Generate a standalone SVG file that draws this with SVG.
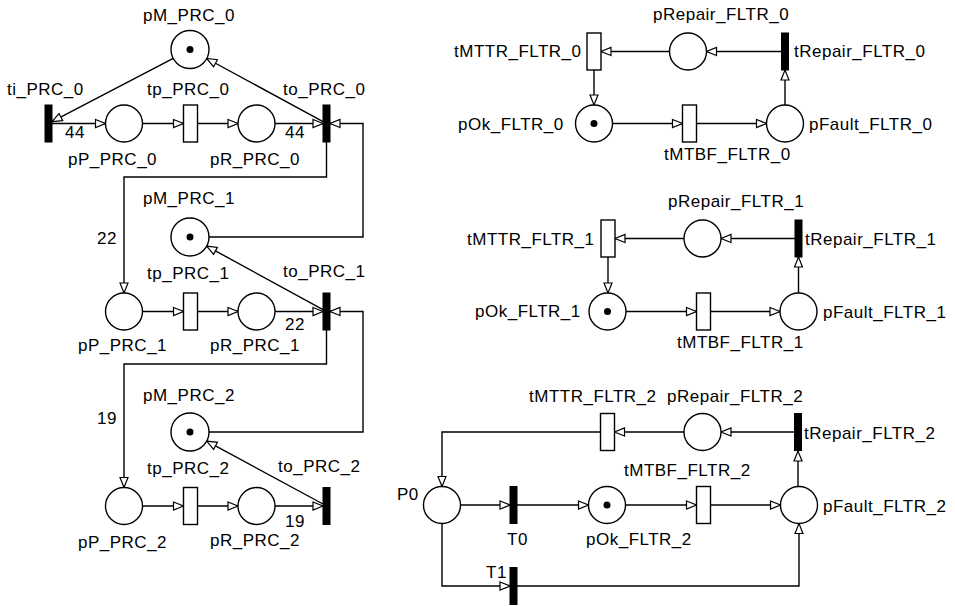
<svg xmlns="http://www.w3.org/2000/svg" width="955" height="606" viewBox="0 0 955 606">
<defs>
<style>
.pl{fill:#fff;stroke:#000;stroke-width:1.4}
.tk{fill:#000}
.tr{fill:#fff;stroke:#000;stroke-width:1.4}
.im{fill:#000;stroke:#000;stroke-width:1}
.arc{fill:none;stroke:#000;stroke-width:1.4}
text{font-family:"Liberation Sans",Arial,sans-serif;font-size:17px;letter-spacing:0.5px;fill:#000}
</style>
<marker id="ah" markerWidth="14" markerHeight="12" refX="10.5" refY="4.5" orient="auto" markerUnits="userSpaceOnUse" overflow="visible"><path d="M0.5,0.5 L10.5,4.5 L0.5,8.5 Z" fill="#fff" stroke="#000" stroke-width="1.2"/></marker>
</defs>
<rect width="955" height="606" fill="#fff"/>
<g id="connectors">
<!-- PRC row 0 -->
<path class="arc" marker-end="url(#ah)" d="M52,123.5 H105.5"/>
<path class="arc" marker-end="url(#ah)" d="M142.5,123.5 H183.5"/>
<path class="arc" marker-end="url(#ah)" d="M197.5,123.5 H238"/>
<path class="arc" marker-end="url(#ah)" d="M275,123.5 H323"/>
<path class="arc" marker-end="url(#ah)" d="M173.2,58.3 L52,121.7"/>
<path class="arc" marker-end="url(#ah)" d="M323,121.6 L206.7,58.5"/>
<path class="arc" marker-end="url(#ah)" d="M209,237 H363 V123.5 H330"/>
<path class="arc" marker-end="url(#ah)" d="M326.5,142 V177 H124 V293"/>
<!-- PRC row 1 -->
<path class="arc" marker-end="url(#ah)" d="M142.5,311.5 H183.5"/>
<path class="arc" marker-end="url(#ah)" d="M197.5,311.5 H238"/>
<path class="arc" marker-end="url(#ah)" d="M275,311.5 H323"/>
<path class="arc" marker-end="url(#ah)" d="M323,309.6 L206.7,246.1"/>
<path class="arc" marker-end="url(#ah)" d="M209,432 H363 V311.5 H330"/>
<path class="arc" marker-end="url(#ah)" d="M326.5,330 V364 H124 V487.5"/>
<!-- PRC row 2 -->
<path class="arc" marker-end="url(#ah)" d="M142.5,506 H183.5"/>
<path class="arc" marker-end="url(#ah)" d="M197.5,506 H238"/>
<path class="arc" marker-end="url(#ah)" d="M275,506 H323"/>
<path class="arc" marker-end="url(#ah)" d="M323,504 L206.7,441.1"/>
<!-- FLTR 0 -->
<path class="arc" marker-end="url(#ah)" d="M781.5,51.5 H706.5"/>
<path class="arc" marker-end="url(#ah)" d="M669.5,51.5 H601"/>
<path class="arc" marker-end="url(#ah)" d="M594,70 V105"/>
<path class="arc" marker-end="url(#ah)" d="M612.5,123.5 H682.5"/>
<path class="arc" marker-end="url(#ah)" d="M696.5,123.5 H766.5"/>
<path class="arc" marker-end="url(#ah)" d="M785,105 V70"/>
<!-- FLTR 1 -->
<path class="arc" marker-end="url(#ah)" d="M795,238.5 H721"/>
<path class="arc" marker-end="url(#ah)" d="M684,238.5 H615"/>
<path class="arc" marker-end="url(#ah)" d="M608,257 V293"/>
<path class="arc" marker-end="url(#ah)" d="M626,311.5 H696.5"/>
<path class="arc" marker-end="url(#ah)" d="M710.5,311.5 H780"/>
<path class="arc" marker-end="url(#ah)" d="M798.5,293 V257"/>
<!-- FLTR 2 -->
<path class="arc" marker-end="url(#ah)" d="M794.5,432 H721"/>
<path class="arc" marker-end="url(#ah)" d="M684,432 H614.5"/>
<path class="arc" marker-end="url(#ah)" d="M600.5,432 H442 V486.5"/>
<path class="arc" marker-end="url(#ah)" d="M460.5,505 H510"/>
<path class="arc" marker-end="url(#ah)" d="M517,505 H588.5"/>
<path class="arc" marker-end="url(#ah)" d="M625.5,505 H696.5"/>
<path class="arc" marker-end="url(#ah)" d="M710.5,505 H780.5"/>
<path class="arc" marker-end="url(#ah)" d="M798,486.5 V451"/>
<path class="arc" marker-end="url(#ah)" d="M442,523.5 V586 H510"/>
<path class="arc" marker-end="url(#ah)" d="M517,586 H799 V523.5"/>
<!-- arc weights -->
<text x="65" y="138">44</text>
<text x="285" y="138">44</text>
<text x="97" y="244">22</text>
<text x="285" y="330">22</text>
<text x="97" y="424">19</text>
<text x="285" y="527">19</text>
</g>
<!-- PRC nodes -->
<g id="pM_PRC_0"><circle class="pl" cx="190" cy="49.5" r="19"/><circle class="tk" cx="190" cy="49.5" r="3.5"/><text x="143" y="21">pM_PRC_0</text></g>
<g id="ti_PRC_0"><rect class="im" x="45" y="105" width="7" height="37"/><text x="7" y="95">ti_PRC_0</text></g>
<g id="pP_PRC_0"><circle class="pl" cx="124" cy="123.5" r="18.5"/><text x="68" y="165">pP_PRC_0</text></g>
<g id="tp_PRC_0"><rect class="tr" x="183.5" y="105" width="14" height="37"/><text x="147" y="95">tp_PRC_0</text></g>
<g id="pR_PRC_0"><circle class="pl" cx="256.5" cy="123.5" r="18.5"/><text x="210" y="165">pR_PRC_0</text></g>
<g id="to_PRC_0"><rect class="im" x="323" y="105" width="7" height="37"/><text x="283" y="95">to_PRC_0</text></g>
<g id="pM_PRC_1"><circle class="pl" cx="190" cy="237" r="19"/><circle class="tk" cx="190" cy="237" r="3.5"/><text x="143" y="204">pM_PRC_1</text></g>
<g id="pP_PRC_1"><circle class="pl" cx="124" cy="311.5" r="18.5"/><text x="78" y="351">pP_PRC_1</text></g>
<g id="tp_PRC_1"><rect class="tr" x="183.5" y="293" width="14" height="37"/><text x="147" y="279">tp_PRC_1</text></g>
<g id="pR_PRC_1"><circle class="pl" cx="256.5" cy="311.5" r="18.5"/><text x="210" y="351">pR_PRC_1</text></g>
<g id="to_PRC_1"><rect class="im" x="323" y="293" width="7" height="37"/><text x="283" y="277">to_PRC_1</text></g>
<g id="pM_PRC_2"><circle class="pl" cx="190" cy="432" r="19"/><circle class="tk" cx="190" cy="432" r="3.5"/><text x="143" y="401">pM_PRC_2</text></g>
<g id="pP_PRC_2"><circle class="pl" cx="124" cy="506" r="18.5"/><text x="78" y="548">pP_PRC_2</text></g>
<g id="tp_PRC_2"><rect class="tr" x="183.5" y="487.5" width="14" height="37"/><text x="147" y="474">tp_PRC_2</text></g>
<g id="pR_PRC_2"><circle class="pl" cx="256.5" cy="506" r="18.5"/><text x="210" y="546">pR_PRC_2</text></g>
<g id="to_PRC_2"><rect class="im" x="323" y="487.5" width="7" height="37"/><text x="278" y="472">to_PRC_2</text></g>
<!-- FLTR 0 nodes -->
<g id="tMTTR_FLTR_0"><rect class="tr" x="587" y="33" width="14" height="37"/><text x="454" y="57">tMTTR_FLTR_0</text></g>
<g id="pRepair_FLTR_0"><circle class="pl" cx="688" cy="51.5" r="18.5"/><text x="653" y="20">pRepair_FLTR_0</text></g>
<g id="tRepair_FLTR_0"><rect class="im" x="781.5" y="33" width="7" height="37"/><text x="794" y="57">tRepair_FLTR_0</text></g>
<g id="pOk_FLTR_0"><circle class="pl" cx="594" cy="123.5" r="18.5"/><circle class="tk" cx="594" cy="123.5" r="3.5"/><text x="458" y="130">pOk_FLTR_0</text></g>
<g id="tMTBF_FLTR_0"><rect class="tr" x="682.5" y="105" width="14" height="37"/><text x="664" y="160">tMTBF_FLTR_0</text></g>
<g id="pFault_FLTR_0"><circle class="pl" cx="785" cy="123.5" r="18.5"/><text x="809" y="130">pFault_FLTR_0</text></g>
<!-- FLTR 1 nodes -->
<g id="tMTTR_FLTR_1"><rect class="tr" x="601" y="220" width="14" height="37"/><text x="467" y="245">tMTTR_FLTR_1</text></g>
<g id="pRepair_FLTR_1"><circle class="pl" cx="702.5" cy="238.5" r="18.5"/><text x="668" y="207">pRepair_FLTR_1</text></g>
<g id="tRepair_FLTR_1"><rect class="im" x="795" y="220" width="7" height="37"/><text x="805" y="245">tRepair_FLTR_1</text></g>
<g id="pOk_FLTR_1"><circle class="pl" cx="607.5" cy="311.5" r="18.5"/><circle class="tk" cx="607.5" cy="311.5" r="3.5"/><text x="475" y="317">pOk_FLTR_1</text></g>
<g id="tMTBF_FLTR_1"><rect class="tr" x="696.5" y="293" width="14" height="37"/><text x="677" y="348">tMTBF_FLTR_1</text></g>
<g id="pFault_FLTR_1"><circle class="pl" cx="798.5" cy="311.5" r="18.5"/><text x="823" y="318">pFault_FLTR_1</text></g>
<!-- FLTR 2 nodes -->
<g id="tMTTR_FLTR_2"><rect class="tr" x="600.5" y="413.5" width="14" height="37"/><text x="529" y="402">tMTTR_FLTR_2</text></g>
<g id="pRepair_FLTR_2"><circle class="pl" cx="702.5" cy="432" r="18.5"/><text x="667" y="402">pRepair_FLTR_2</text></g>
<g id="tRepair_FLTR_2"><rect class="im" x="794.5" y="413.5" width="7" height="37"/><text x="804" y="439">tRepair_FLTR_2</text></g>
<g id="P0"><circle class="pl" cx="442" cy="505" r="18.5"/><text x="397" y="500">P0</text></g>
<g id="T0"><rect class="im" x="510" y="486.5" width="7" height="37"/><text x="507" y="545">T0</text></g>
<g id="pOk_FLTR_2"><circle class="pl" cx="607" cy="505" r="18.5"/><circle class="tk" cx="607" cy="505" r="3.5"/><text x="586" y="545">pOk_FLTR_2</text></g>
<g id="tMTBF_FLTR_2"><rect class="tr" x="696.5" y="486.5" width="14" height="37"/><text x="624" y="476">tMTBF_FLTR_2</text></g>
<g id="pFault_FLTR_2"><circle class="pl" cx="799" cy="505" r="18.5"/><text x="823" y="512">pFault_FLTR_2</text></g>
<g id="T1"><rect class="im" x="510" y="567.5" width="7" height="37"/><text x="486" y="578">T1</text></g>
</svg>
